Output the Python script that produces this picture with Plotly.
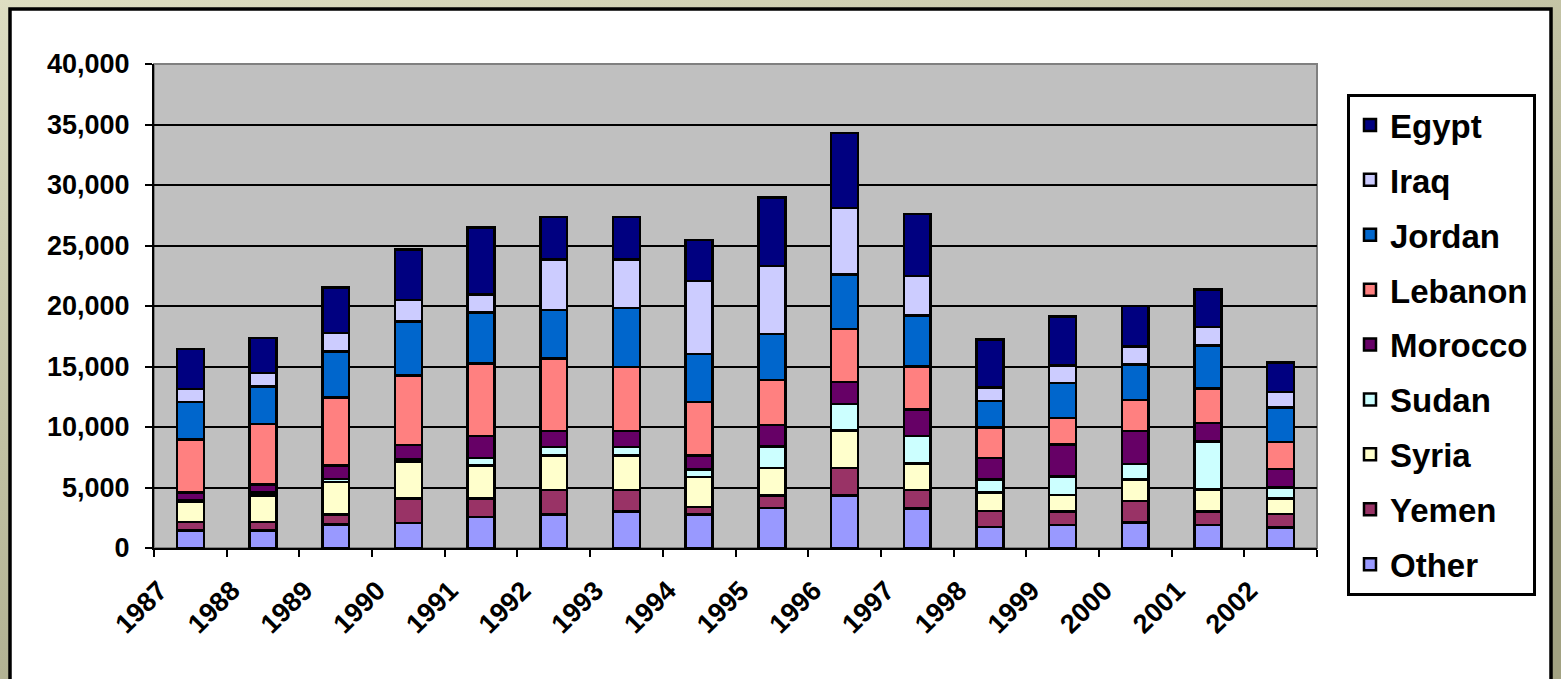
import base64
import plotly.graph_objects as go

years = ["1987", "1988", "1989", "1990", "1991", "1992", "1993", "1994",
         "1995", "1996", "1997", "1998", "1999", "2000", "2001", "2002"]

other   = [1450, 1450, 1950, 2050, 2550, 2750, 3000, 2750, 3300, 4350, 3250, 1750, 1900, 2100, 1900, 1700]
yemen   = [700, 700, 800, 2050, 1550, 2050, 1800, 650, 1050, 2250, 1550, 1300, 1100, 1800, 1100, 1100]
syria   = [1700, 2200, 2700, 3050, 2700, 2850, 2850, 2450, 2250, 3100, 2200, 1550, 1400, 1750, 1850, 1300]
sudan   = [100, 250, 250, 200, 650, 700, 700, 650, 1800, 2200, 2250, 1050, 1500, 1300, 3950, 900]
morocco = [650, 650, 1100, 1150, 1800, 1300, 1300, 1150, 1750, 1800, 2200, 1800, 2650, 2700, 1550, 1550]
lebanon = [4350, 5000, 5650, 5750, 6000, 6000, 5300, 4400, 3750, 4400, 3550, 2500, 2200, 2600, 2850, 2200]
jordan  = [3100, 3100, 3800, 4450, 4200, 4000, 4900, 4000, 3800, 4500, 4200, 2200, 2900, 2900, 3550, 2850]
iraq    = [1100, 1100, 1500, 1800, 1500, 4200, 4000, 6000, 5600, 5500, 3300, 1100, 1450, 1500, 1500, 1300]
egypt   = [3300, 2900, 3800, 4150, 5550, 3500, 3500, 3400, 5650, 6200, 5100, 4000, 4050, 3350, 3100, 2450]

series_names = ["Other", "Yemen", "Syria", "Sudan", "Morocco", "Lebanon", "Jordan", "Iraq", "Egypt"]
series_values = [other, yemen, syria, sudan, morocco, lebanon, jordan, iraq, egypt]
series_colors = ["#9999FF", "#993366", "#FFFFCC", "#CCFFFF", "#660066",
                 "#FF8080", "#0066CC", "#CCCCFF", "#000080"]

y_ticks = [0, 5000, 10000, 15000, 20000, 25000, 30000, 35000, 40000]

FONT = "Arial, 'Liberation Sans', sans-serif"

# pixel geometry: axes area x 154..1317, y 64..548; paper (margins) x 154..1317, y 64..669
W, H = 1561, 679
L, R, T = 154, 1317, 64
AXB = 548          # bottom of the y axis
PB = 669           # bottom of the paper area
def px(x):
    return (x - L) / (R - L)
def py(y):
    return (PB - y) / (PB - T)

fig = go.Figure()
n = len(series_names)
for i, (name, vals, col) in enumerate(zip(series_names, series_values, series_colors)):
    fig.add_trace(go.Bar(
        x=years, y=vals, name=name, legendgroup=name, legendrank=n - i,
        marker=dict(color=col, line=dict(color="black", width=2.5)),
    ))

svg = ('<svg xmlns="http://www.w3.org/2000/svg" width="1561" height="679">'
       '<defs><linearGradient id="g" x1="0" y1="0" x2="0.6" y2="1">'
       '<stop offset="0" stop-color="#dedec2"/><stop offset="1" stop-color="#a2a282"/>'
       '</linearGradient></defs><rect width="1561" height="679" fill="url(#g)"/></svg>')
src = "data:image/svg+xml;base64," + base64.b64encode(svg.encode()).decode()

fig.update_layout(
    width=W, height=H,
    margin=dict(l=L, r=W - R, t=T, b=H - PB, pad=0, autoexpand=False),
    barmode="stack",
    bargap=0.63,
    paper_bgcolor="#b8b898",
    plot_bgcolor="rgba(0,0,0,0)",
    font=dict(family=FONT, color="black", size=27),
    showlegend=True,
    legend=dict(
        x=px(1347), y=py(94), xanchor="left", yanchor="top",
        traceorder="grouped", tracegroupgap=9,
        bgcolor="white", bordercolor="black", borderwidth=3,
        font=dict(family=FONT, size=33, color="black", weight="bold"),
    ),
    images=[dict(source=src, xref="paper", yref="paper",
                 x=px(0), y=py(0), sizex=px(W) - px(0), sizey=py(0) - py(H),
                 xanchor="left", yanchor="top", sizing="stretch", layer="below")],
    shapes=[
        dict(type="rect", xref="paper", yref="paper", layer="below",
             x0=px(10), x1=px(1551), y0=py(700), y1=py(9),
             fillcolor="white", line=dict(color="black", width=3.5)),
        dict(type="rect", xref="x domain", yref="y domain", layer="below",
             x0=0, x1=1, y0=0, y1=1,
             fillcolor="#C0C0C0", line=dict(color="#808080", width=2)),
    ],
    xaxis=dict(
        type="category", tickson="boundaries", ticks="outside", ticklen=7,
        tickwidth=2, tickcolor="black", showline=True, linecolor="black",
        linewidth=2, tickangle=-45, showgrid=False, anchor="y", automargin=False,
        ticklabelshift=-31, ticklabelstandoff=14,
        tickfont=dict(family=FONT, size=27, color="black", weight="bold"),
    ),
    yaxis=dict(
        domain=[py(AXB), 1], automargin=False,
        range=[0, 40000], tickvals=y_ticks, tickformat=",d",
        ticks="outside", ticklen=7, tickwidth=2, tickcolor="black",
        showline=True, linecolor="black", linewidth=2,
        showgrid=True, gridcolor="black", gridwidth=1.5, zeroline=False,
        ticklabelstandoff=10,
        tickfont=dict(family=FONT, size=27, color="black", weight="bold"),
    ),
)

fig.write_html("out.html", config={"displayModeBar": False},
               post_script="document.body.style.margin='0';document.body.style.overflow='hidden';")
